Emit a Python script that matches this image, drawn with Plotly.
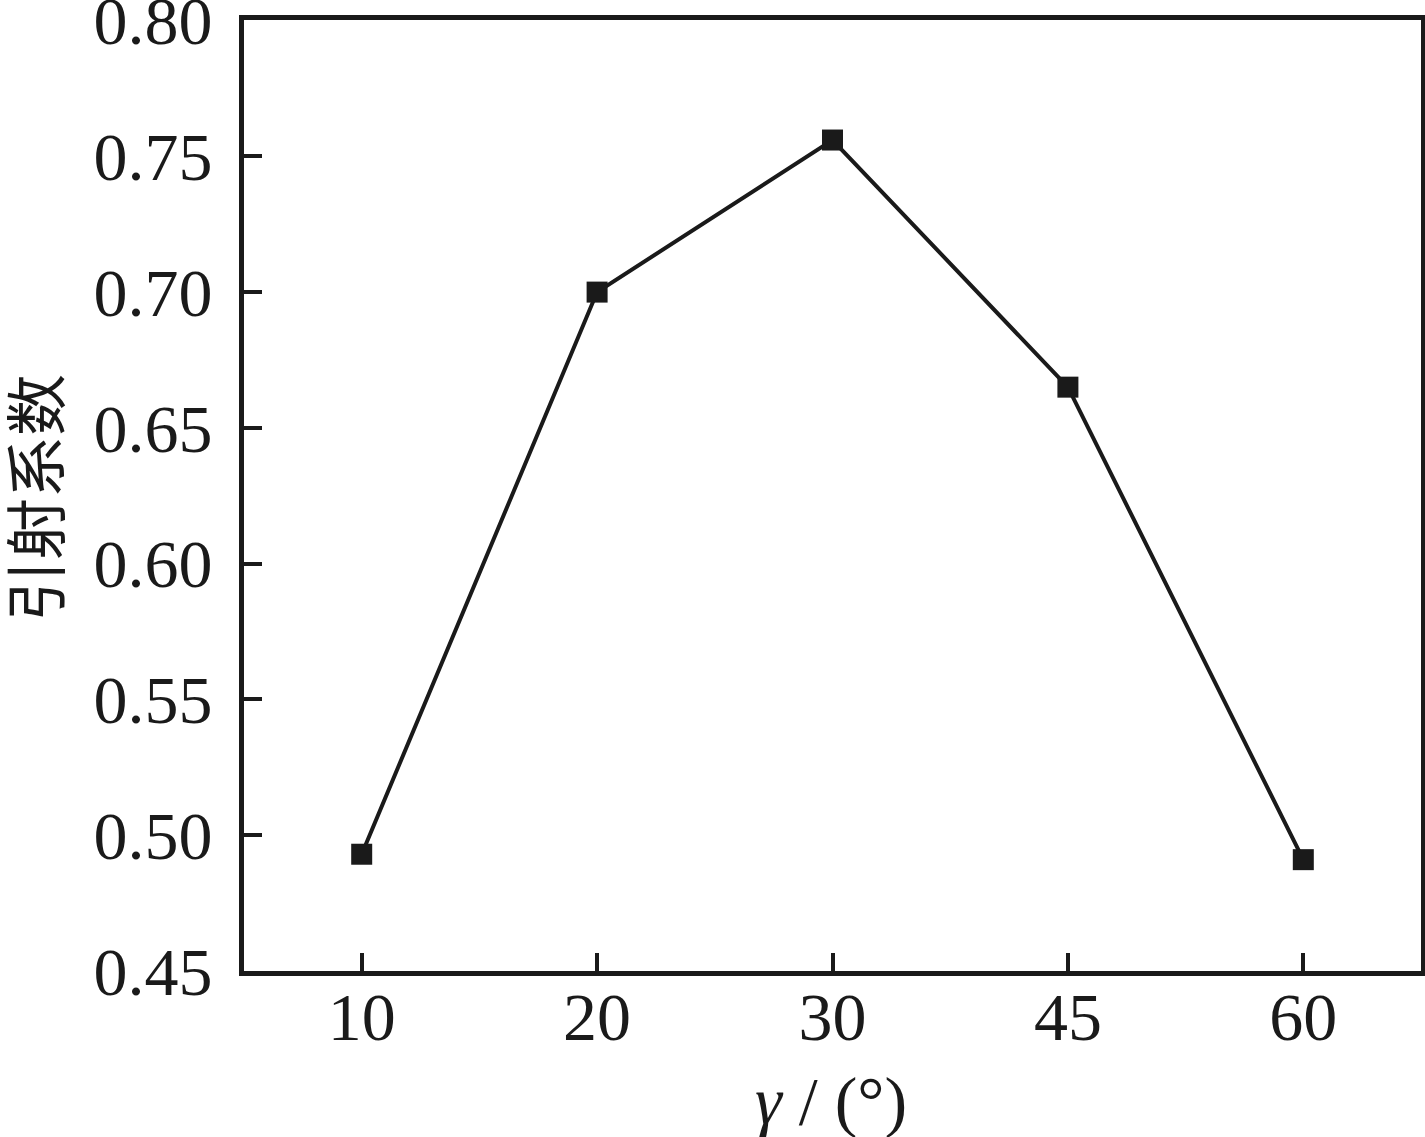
import plotly.graph_objects as go

categories = ["10", "20", "30", "45", "60"]
ejection_coeff = [0.493, 0.700, 0.756, 0.665, 0.491]
y_ticks = [0.45, 0.50, 0.55, 0.60, 0.65, 0.70, 0.75, 0.80]
y_tick_labels = ["0.45", "0.50", "0.55", "0.60", "0.65", "0.70", "0.75", "0.80"]

ink = "#1a1a1a"
serif = "Liberation Serif, Times New Roman, serif"

W, H = 1425, 1137
L, R, T, B = 244, 1421, 20, 971

fig = go.Figure()
fig.add_trace(go.Scatter(
    x=categories, y=ejection_coeff, mode="lines+markers",
    line=dict(color=ink, width=4),
    marker=dict(symbol="square", size=21, color=ink),
    showlegend=False,
))

fig.update_layout(
    width=W, height=H,
    margin=dict(l=L, r=W - R, t=T, b=H - B),
    paper_bgcolor="white", plot_bgcolor="white",
    font=dict(family=serif, size=68, color=ink),
)
fig.update_xaxes(
    type="category", range=[-0.5, 4.5], automargin=False,
    showline=True, linecolor=ink, linewidth=5, mirror=True,
    ticks="inside", ticklen=18, tickwidth=4, tickcolor=ink,
    showgrid=False, zeroline=False,
    ticklabelstandoff=-18, ticklabeloverflow="allow",
)
fig.update_yaxes(
    range=[0.45, 0.8002], automargin=False,
    tickvals=y_ticks, ticktext=y_tick_labels,
    showline=True, linecolor=ink, linewidth=5, mirror=True,
    ticks="inside", ticklen=18, tickwidth=4, tickcolor=ink,
    showgrid=False, zeroline=False,
    ticklabelstandoff=13, ticklabeloverflow="allow",
)
fig.add_annotation(
    text="<i>γ</i> / (°)", xref="paper", yref="paper",
    x=(831 - L) / (R - L), y=-(1101 - B) / (B - T),
    xanchor="center", yanchor="middle", showarrow=False,
    font=dict(family=serif, size=68, color=ink),
)
fig.add_annotation(
    text="引射系数", xref="paper", yref="paper",
    x=-(L - 33) / (R - L), y=(B - 498) / (B - T),
    xanchor="center", yanchor="middle", showarrow=False, textangle=-90,
    font=dict(family="Noto Sans CJK SC", size=62, color=ink),
)

fig.write_html("out.html", config={"displayModeBar": False},
               post_script="document.body.style.margin='0';")
